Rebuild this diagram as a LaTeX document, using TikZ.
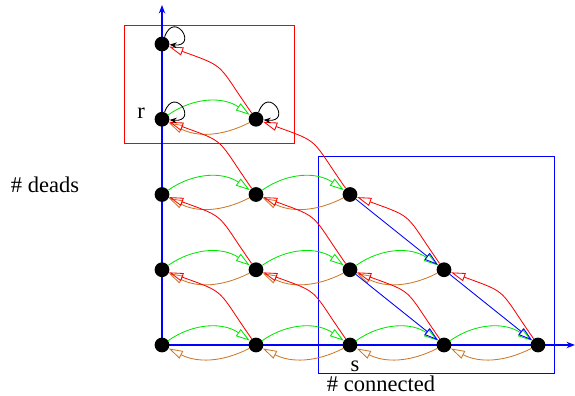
\documentclass[tikz,border=0pt]{standalone}
\usepackage{fontspec}
\setmainfont{Liberation Serif}
\usetikzlibrary{arrows.meta}

\definecolor{naranja}{RGB}{204,120,40}
\definecolor{verde}{RGB}{0,230,0}

\tikzset{
  estado/.style={circle, fill=black, inner sep=0pt, minimum size=10.5pt},
  eje/.style={blue, line width=1.8pt, -{Stealth[length=6pt,width=4.5pt]}},
  punta/.style={-{Triangle[open,length=10pt,width=6pt]}, line width=0.6pt},
  avance/.style={punta, verde},
  retroceso/.style={punta, naranja},
  muerte/.style={punta, red},
  salto/.style={punta, blue},
  lazo/.style={-{Stealth[length=5pt,width=4pt]}, line width=0.6pt, black}
}

\begin{document}
\begin{tikzpicture}[x=0.025cm, y=0.025cm, font=\fontsize{16}{19}\selectfont]
  \useasboundingbox (-162,-51) rectangle (413,345);

  % --- Marcos ---
  \draw[red, line width=0.7pt] (-38,320) rectangle (132,202);
  \draw[blue, line width=0.7pt] (156,189) rectangle (392,-28);

  % --- Ejes ---
  \coordinate (origen) at (0,0);
  \coordinate (finx) at (413,0);
  \coordinate (finy) at (0,340);
  \draw[eje] (origen) -- (finx);
  \draw[eje] (origen) -- (finy);

  % --- Estados (i conectados, j muertos) ---
  \foreach \i in {0,...,4} {
    \pgfmathtruncatemacro\jmax{4-\i}
    \foreach \j in {0,...,\jmax}
      \node[estado] (n-\i-\j) at (94*\i, 75.25*\j) {};
  }

  % Transiciones horizontales
  \foreach \i in {0,...,3} {
    \pgfmathtruncatemacro\jmax{3-\i}
    \pgfmathtruncatemacro\k{\i+1}
    \foreach \j in {0,...,\jmax} {
      \draw[avance] (n-\i-\j) to[bend left=35] (n-\k-\j);
      \draw[retroceso] (n-\k-\j) to[bend left=27] (n-\i-\j);
    }
  }

  % Transiciones diagonales (rojas)
  \foreach \i in {1,...,4} {
    \pgfmathtruncatemacro\jmax{4-\i}
    \pgfmathtruncatemacro\k{\i-1}
    \foreach \j in {0,...,\jmax} {
      \pgfmathtruncatemacro\l{\j+1}
      \draw[muerte] (n-\i-\j) to[out=125, in=-20, looseness=1.5] (n-\k-\l);
    }
  }

  % Saltos dentro del marco azul
  \draw[salto] (n-2-2) -- (n-3-1);
  \draw[salto] (n-2-1) -- (n-3-0);
  \draw[salto] (n-3-1) -- (n-4-0);

  % Lazos
  \foreach \n in {n-0-4, n-0-3, n-1-3}
    \draw[lazo] (\n) to[out=70, in=-5, looseness=8, min distance=5mm] (\n);

  % Etiquetas
  \node (r) at (-21,232) {r};
  \node (s) at (193,-21) {s};
  \node (deads) at (-117,160) {\# deads};
  \node (connected) at (219,-39) {\# connected};
\end{tikzpicture}
\end{document}
